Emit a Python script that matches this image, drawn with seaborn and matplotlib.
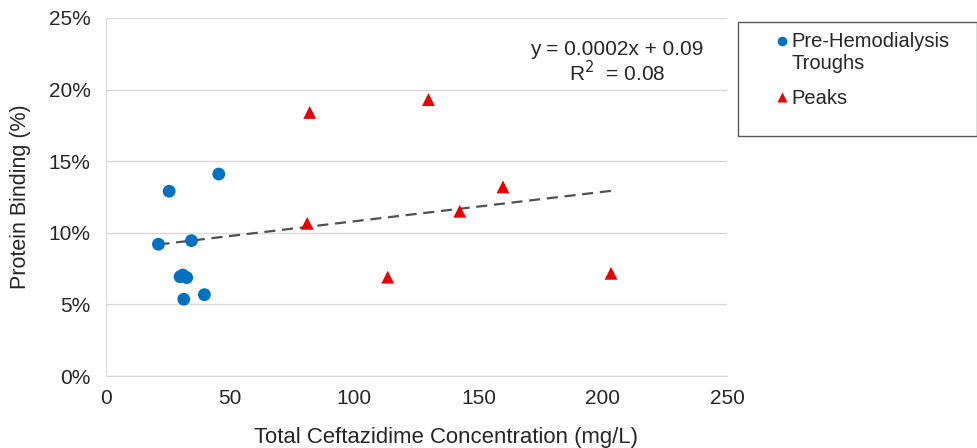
import numpy as np
import pandas as pd
import matplotlib
matplotlib.use('Agg')
import matplotlib.pyplot as plt
import seaborn as sns

# troughs (blue circles) and peaks (red triangles)
trough_conc = [21.1, 25.4, 45.4, 34.4, 29.8, 30.9, 32.5, 31.3, 39.6]
trough_pb = [9.2, 12.9, 14.1, 9.45, 6.93, 7.05, 6.87, 5.36, 5.68]
peak_conc = [82.0, 129.8, 81.0, 113.4, 142.4, 159.8, 203.3]
peak_pb = [18.4, 19.3, 10.66, 6.9, 11.5, 13.2, 7.17]

lab_trough = 'Pre-Hemodialysis\nTroughs'
lab_peak = 'Peaks'

df = pd.DataFrame({
    'conc': trough_conc + peak_conc,
    'pb': [v / 100 for v in trough_pb + peak_pb],
    'group': [lab_trough] * len(trough_conc) + [lab_peak] * len(peak_conc),
})

sns.set_style('white')
plt.rcParams['font.family'] = ['Liberation Sans', 'DejaVu Sans']

fig = plt.figure(figsize=(9.78, 4.48), dpi=100)
ax = fig.add_axes([0.1084, 0.1607, 0.6350, 0.7993])

# dashed linear trendline over all points
sns.regplot(data=df, x='conc', y='pb', scatter=False, ci=None, ax=ax,
            line_kws={'color': '#505050', 'ls': (0, (5, 3)), 'lw': 1.6})

sns.scatterplot(data=df, x='conc', y='pb', hue='group', style='group',
                palette={lab_trough: '#0070C0', lab_peak: '#E60000'},
                markers={lab_trough: 'o', lab_peak: '^'},
                s=85, edgecolor='none', ax=ax, zorder=3)

ax.set_xlim(0, 250)
ax.set_ylim(0, 0.25)
ax.set_xticks([0, 50, 100, 150, 200, 250])
ax.set_yticks([0, 0.05, 0.10, 0.15, 0.20, 0.25])
ax.set_yticklabels(['0%', '5%', '10%', '15%', '20%', '25%'])
ax.yaxis.grid(True, color='#D9D9D9', lw=1)
ax.set_axisbelow(True)
for side in ['top', 'right']:
    ax.spines[side].set_visible(False)
for side in ['left', 'bottom']:
    ax.spines[side].set_color('#D9D9D9')
ax.tick_params(axis='y', length=0, labelsize=15, colors='#262626', pad=11)
ax.tick_params(axis='x', length=0, labelsize=15, colors='#262626', pad=9)
ax.set_xlabel('Total Ceftazidime Concentration (mg/L)', fontsize=15.9,
              color='#262626', labelpad=14)
ax.xaxis.label.set_x(0.5475)
ax.set_ylabel('Protein Binding (%)', fontsize=15.5, color='#262626', labelpad=13)

ax.text(205.7, 0.228, 'y = 0.0002x + 0.09', ha='center', va='center',
        fontsize=15, color='#262626')
ax.text(205.7, 0.212, 'R$^2$  = 0.08', ha='center', va='center',
        fontsize=15, color='#262626')

# legend box drawn separately so its size matches the original
box = plt.Rectangle((738 / 978, 1 - 136 / 448), 239 / 978, 114 / 448,
                    transform=fig.transFigure, fill=False,
                    edgecolor='#595959', lw=1)
fig.add_artist(box)
leg = ax.legend(loc='upper left', bbox_to_anchor=(773 / 978, 1 - 32 / 448),
                bbox_transform=fig.transFigure, frameon=False,
                fontsize=14.5, handletextpad=0.0, borderaxespad=0,
                borderpad=0, handlelength=0.9, labelspacing=0.8,
                title=None, markerscale=0.75)
for t in leg.get_texts():
    t.set_color('#262626')

# put the circle next to the first line of the two-line label
h0 = leg.legend_handles[0]
if hasattr(h0, 'set_ydata'):
    h0.set_ydata(np.asarray(h0.get_ydata()) + 8.5)

fig.savefig('out.png', dpi=100)
